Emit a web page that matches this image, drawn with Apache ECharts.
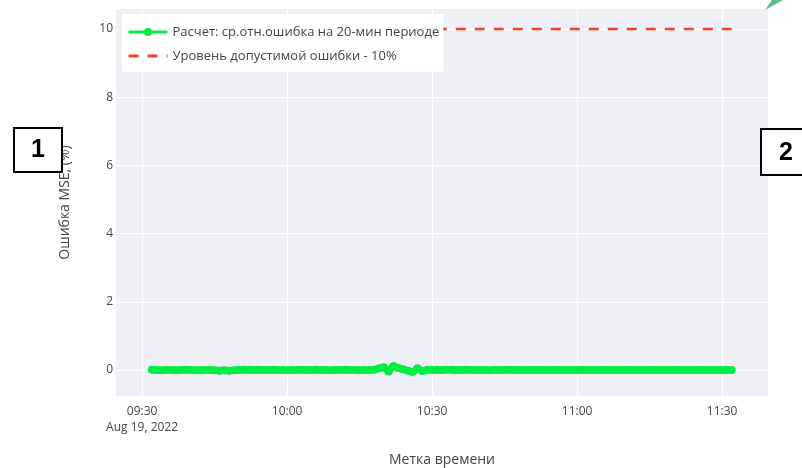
<!DOCTYPE html>
<html><head><meta charset="utf-8">
<script src="https://cdn.jsdelivr.net/npm/echarts@6/dist/echarts.min.js"></script>
<style>html,body{margin:0;padding:0;background:#fff}#c{width:802px;height:468px}</style>
</head><body><div id="c"></div>
<script>
// ---- data ----
const seriesCalcName = 'Расчет: ср.отн.ошибка на 20-мин периоде';
const seriesLimitName = 'Уровень допустимой ошибки - 10%';
const startTime = '09:32';   // first sample, 1-minute sampling
const calcValues = [
  0.01, 0.00, -0.01, 0.00, 0.00, -0.01, 0.00, 0.01, 0.00, -0.01, -0.01, 0.00, 0.00, -0.01, -0.02, -0.01,
  -0.02, -0.01, 0.00, 0.01, 0.01, 0.00, 0.01, 0.00, 0.00, 0.01, 0.00, 0.00, -0.01, 0.00, 0.00, 0.01, 0.00,
  0.00, 0.01, 0.00, 0.00, -0.01, 0.00, 0.00, 0.01, 0.00, 0.00, -0.01, 0.00, 0.00,
  0.01, 0.05, 0.08, -0.04, 0.12, 0.06, 0.02, -0.02, -0.06, 0.05, -0.03, 0.01, 0.00,
  0.01, 0.00, 0.01, 0.01, 0.00, 0.00, 0.01, 0.00, 0.00, 0.00, 0.00, -0.01, 0.00, 0.00, 0.00, 0.01, 0.00, 0.00, 0.00, 0.00,
  0.00, 0.00, 0.00, 0.00, 0.00, 0.00, 0.00, 0.00, 0.00, 0.00, 0.00, 0.00, 0.00, 0.00, 0.00, 0.00, 0.00, 0.00, 0.00, 0.00,
  0.00, 0.00, 0.00, 0.00, 0.00, 0.00, 0.00, 0.00, 0.00, 0.00, 0.00, 0.00, 0.00, 0.00, 0.00, 0.00, 0.00, 0.00, 0.00, 0.00,
  0.00, 0.00
];
const limitTimes = ['09:32', '11:32'];
const limitValues = [10, 10];
const xTickLabels = ['09:30', '10:00', '10:30', '11:00', '11:30'];
const xDateLabel = 'Aug 19, 2022';
const yTickValues = [0, 2, 4, 6, 8, 10];
const xRange = ['09:24.6', '11:39.5'];
const yRange = [-0.762, 10.587];
const xTitle = 'Метка времени';
const yTitle = 'Ошибка MSE, (%)';

// ---- helpers ----
function toMin(s) { const [h, m] = s.split(':'); return parseInt(h) * 60 + parseFloat(m); }
function fmt(v) { const h = Math.floor(v / 60), m = Math.round(v - h * 60); return String(h).padStart(2, '0') + ':' + String(m).padStart(2, '0'); }
const t0 = toMin(startTime);
const calcData = calcValues.map((v, i) => [t0 + i, v]);
const limitData = limitTimes.map((t, i) => [toMin(t), limitValues[i]]);
const xTickVals = xTickLabels.map(toMin);

const chart = echarts.init(document.getElementById('c'), null, { renderer: 'canvas' });
const font = '"Open Sans", "Noto Sans", sans-serif';
const green = '#00ee44';
const red = '#ff3b30';
chart.setOption({
  animation: false,
  backgroundColor: '#ffffff',
  textStyle: { fontFamily: font },
  grid: { left: 116, right: 34, top: 9, bottom: 72, show: true, backgroundColor: '#eef0f5', borderWidth: 0, containLabel: false, outerBoundsMode: 'none' },
  xAxis: {
    type: 'value', min: toMin(xRange[0]), max: toMin(xRange[1]),
    name: xTitle, nameLocation: 'middle', nameGap: 57,
    nameTextStyle: { fontSize: 14, color: '#444', fontFamily: font },
    axisLine: { show: false }, axisTick: { show: false, customValues: xTickVals },
    splitLine: { show: true, lineStyle: { color: '#ffffff', width: 1 } },
    axisLabel: {
      customValues: xTickVals, color: '#444', fontSize: 12, margin: 8, lineHeight: 16, fontFamily: font,
      formatter: v => (Math.abs(v - xTickVals[0]) < 0.01 ? fmt(v) + '\n' + xDateLabel : fmt(v))
    }
  },
  yAxis: {
    type: 'value', min: yRange[0], max: yRange[1],
    name: yTitle, nameLocation: 'middle', nameGap: 44, nameRotate: 90,
    nameTextStyle: { fontSize: 14, color: '#444', fontFamily: font },
    axisLine: { show: false }, axisTick: { show: false, customValues: yTickValues },
    splitLine: { show: true, lineStyle: { color: '#ffffff', width: 1 } },
    axisLabel: { customValues: yTickValues, color: '#444', fontSize: 12, margin: 3, fontFamily: font }
  },
  legend: {
    left: 122, top: 14, orient: 'vertical',
    backgroundColor: '#ffffff', padding: [10, 4, 8, 5],
    itemWidth: 39, itemHeight: 10, itemGap: 8,
    textStyle: { fontSize: 13, color: '#444', fontFamily: font, lineHeight: 16 },
    data: [
      { name: seriesCalcName, itemStyle: { color: green }, lineStyle: { width: 3, color: green } },
      { name: seriesLimitName, itemStyle: { color: red, opacity: 0 }, lineStyle: { width: 3, color: red, type: [10, 9], opacity: 1 } }
    ]
  },
  series: [
    {
      name: seriesCalcName, type: 'line', data: calcData,
      symbol: 'circle', symbolSize: 8, showSymbol: true,
      itemStyle: { color: green }, lineStyle: { width: 7, color: green }, z: 3
    },
    {
      name: seriesLimitName, type: 'line', data: limitData,
      symbol: 'none', itemStyle: { color: red }, lineStyle: { width: 2.5, color: red, type: [10, 9] }, z: 2
    }
  ],
  graphic: [
    { type: 'polygon', shape: { points: [[765, 10], [772, 0], [783, 0]] }, style: { fill: '#5cbf8a' }, z: 100 },
    { type: 'rect', shape: { x: 14, y: 128, width: 48, height: 44 }, style: { fill: '#ffffff', stroke: '#000', lineWidth: 2 }, z: 100 },
    { type: 'text', x: 38, y: 150, style: { text: '1', font: 'bold 25px "Liberation Sans", Arial, sans-serif', fill: '#000', align: 'center', verticalAlign: 'middle' }, z: 101 },
    { type: 'rect', shape: { x: 761, y: 129, width: 48, height: 46 }, style: { fill: '#ffffff', stroke: '#000', lineWidth: 2 }, z: 100 },
    { type: 'text', x: 786, y: 153, style: { text: '2', font: 'bold 25px "Liberation Sans", Arial, sans-serif', fill: '#000', align: 'center', verticalAlign: 'middle' }, z: 101 }
  ]
});
</script></body></html>
